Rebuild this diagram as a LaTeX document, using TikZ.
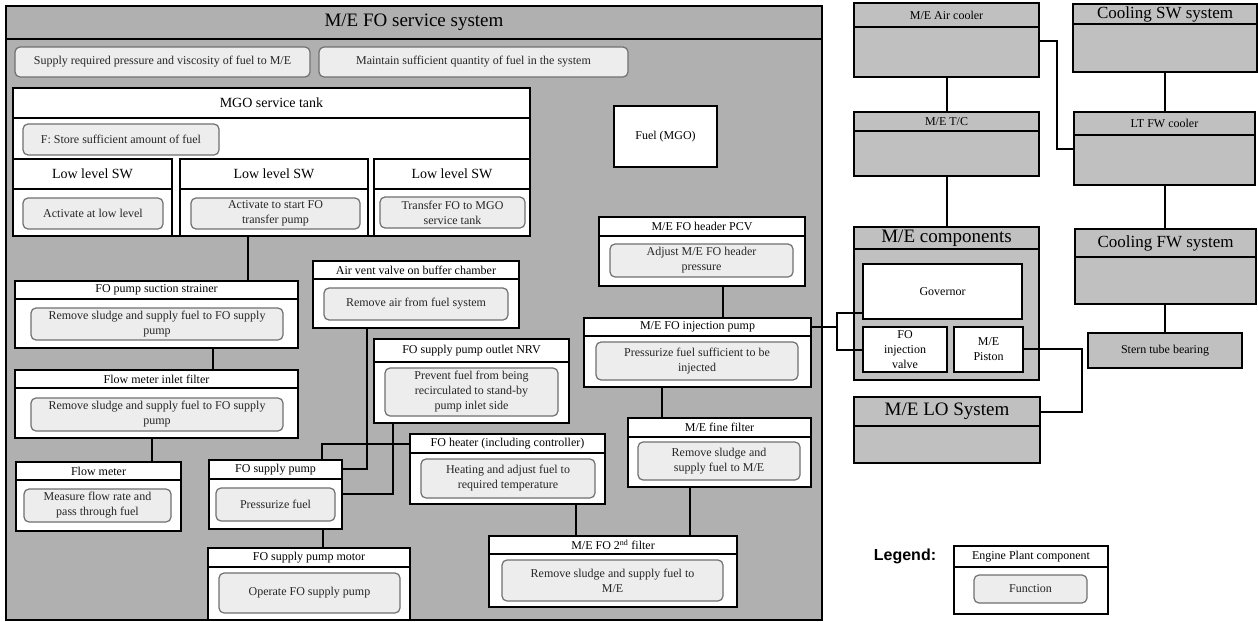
\documentclass[tikz,border=0pt]{standalone}
\usepackage{fontspec}
\setmainfont{Liberation Serif}
\newfontfamily\legendfont{Liberation Sans}
\definecolor{sysgray}{HTML}{B0B0B0}
\definecolor{rgray}{HTML}{C0C0C0}
\definecolor{fnfill}{HTML}{EDEDED}
\definecolor{fnline}{HTML}{707070}
\newcommand{\szsmall}{\fontsize{12}{15}\selectfont}
\newcommand{\szmid}{\fontsize{14}{17}\selectfont}
\newcommand{\szlarge}{\fontsize{17}{20}\selectfont}
\newcommand{\szhuge}{\fontsize{19}{22}\selectfont}
% component box with a title band: name, style, x1, y1, x2, y2, band bottom, title
\newcommand{\cbox}[8]{%
  \node[#2, anchor=north west, minimum width={(#5-#3)*1pt}, minimum height={(#6-#4)*1pt}] (#1) at (#3,#4) {};
  \draw[sep] (#3,#7) -- (#5,#7);
  \node[ttl] (#1-t) at ({(#3+#5)/2},{(#4+#7)/2}) {#8};
}
% plain box with centred text: name, style, x1, y1, x2, y2, text
\newcommand{\pbox}[7]{%
  \node[#2, anchor=north west, align=center, font=\szsmall, minimum width={(#5-#3)*1pt}, minimum height={(#6-#4)*1pt}] (#1) at (#3,#4) {#7};
}
% rounded function box: name, x1, y1, x2, y2, text
\newcommand{\fnbox}[6]{%
  \node[func, anchor=north west, minimum width={(#4-#2)*1pt}, minimum height={(#5-#3)*1pt}] (#1) at (#2,#3) {#6};
}
\begin{document}
\begin{tikzpicture}[x=1pt,y=-1pt,
  box/.style={draw=black, line width=1.5pt, fill=white, inner sep=0pt, outer sep=0pt},
  gbox/.style={box, fill=sysgray},
  rbox/.style={box, fill=rgray},
  func/.style={draw=fnline, fill=fnfill, line width=1.2pt, rounded corners=5pt, inner sep=0pt, outer sep=0pt, align=center, font=\szsmall, text=black!85},
  ttl/.style={inner sep=0pt, align=center, font=\szsmall},
  sep/.style={draw=black, line width=1.5pt},
  conn/.style={draw=black, line width=1.4pt}]
\useasboundingbox (0,0) rectangle (1258,621);

% ---------------- M/E FO service system ----------------
\cbox{fosys}{gbox}{6}{6}{822}{620}{39}{\szhuge M/E FO service system}
\fnbox{fsupply}{15}{47}{310}{77}{Supply required pressure and viscosity of fuel to M/E}
\fnbox{fmaintain}{319}{47}{628}{77}{Maintain sufficient quantity of fuel in the system}

% MGO service tank with its level switches
\cbox{tank}{box}{13}{88}{530}{236}{118}{\szmid MGO service tank}
\fnbox{ftank}{23}{124}{219}{155}{F: Store sufficient amount of fuel}
\cbox{swa}{box}{13}{159}{172}{236}{189}{\szmid Low level SW}
\fnbox{fswa}{23}{198}{163}{229}{Activate at low level}
\cbox{swb}{box}{180}{159}{368}{236}{189}{\szmid Low level SW}
\fnbox{fswb}{191}{198}{360}{229}{Activate to start FO\\transfer pump}
\cbox{swc}{box}{374}{159}{530}{236}{189}{\szmid Low level SW}
\fnbox{fswc}{380}{197}{525}{228}{Transfer FO to MGO\\service tank}

\pbox{fuel}{box}{614}{106}{717}{167}{Fuel (MGO)}

% suction side
\cbox{strainer}{box}{15}{281}{298}{348}{299}{FO pump suction strainer}
\fnbox{fstrainer}{31}{308}{283}{340}{Remove sludge and supply fuel to FO supply\\pump}
\cbox{inlet}{box}{15}{370}{298}{438}{388}{Flow meter inlet filter}
\fnbox{finlet}{31}{398}{283}{431}{Remove sludge and supply fuel to FO supply\\pump}
\cbox{flowm}{box}{16}{462}{181}{531}{480}{Flow meter}
\fnbox{fflowm}{24}{489}{171}{522}{Measure flow rate and\\pass through fuel}

% supply pump group
\cbox{airvent}{box}{313}{261}{519}{328}{279}{Air vent valve on buffer chamber}
\fnbox{fairvent}{324}{288}{508}{320}{Remove air from fuel system}
\cbox{nrv}{box}{374}{339}{569}{423}{362}{FO supply pump outlet NRV}
\fnbox{fnrv}{385}{368}{558}{416}{Prevent fuel from being\\recirculated to stand-by\\pump inlet side}
\cbox{pump}{box}{209}{460}{342}{529}{479}{FO supply pump}
\fnbox{fpump}{216}{488}{335}{521}{Pressurize fuel}
\cbox{motor}{box}{208}{548}{410}{620}{567}{FO supply pump motor}
\fnbox{fmotor}{219}{573}{400}{613}{Operate FO supply pump}
\cbox{heater}{box}{410}{434}{605}{504}{453}{FO heater (including controller)}
\fnbox{fheater}{421}{459}{595}{498}{Heating and adjust fuel to\\required temperature}

% pressure side
\cbox{second}{box}{489}{536}{737}{607}{554}{M/E FO 2\textsuperscript{nd} filter}
\fnbox{fsecond}{502}{560}{723}{601}{Remove sludge and supply fuel to\\M/E}
\cbox{fine}{box}{628}{418}{811}{487}{437}{M/E fine filter}
\fnbox{ffine}{638}{442}{800}{480}{Remove sludge and\\supply fuel to M/E}
\cbox{injpump}{box}{584}{318}{811}{387}{336}{M/E FO injection pump}
\fnbox{finjpump}{596}{342}{798}{380}{Pressurize fuel sufficient to be\\injected}
\cbox{pcv}{box}{599}{217}{805}{286}{236}{M/E FO header PCV}
\fnbox{fpcv}{610}{244}{793}{277}{Adjust M/E FO header\\pressure}

% ---------------- neighbouring systems ----------------
\cbox{aircool}{rbox}{854}{3}{1039}{77}{27}{M/E Air cooler}
\cbox{coolsw}{rbox}{1073}{4}{1257}{72}{24}{\szlarge Cooling SW system}
\cbox{tc}{rbox}{854}{112}{1039}{176}{131}{M/E T/C}
\cbox{ltfw}{rbox}{1074}{112}{1255}{185}{135}{LT FW cooler}
\cbox{mecomp}{rbox}{854}{227}{1039}{380}{249}{\szhuge M/E components}
\pbox{governor}{box}{863}{264}{1022}{319}{Governor}
\pbox{injvalve}{box}{863}{327}{947}{372}{FO\\injection\\valve}
\pbox{piston}{box}{954}{327}{1023}{372}{M/E\\Piston}
\cbox{coolfw}{rbox}{1075}{229}{1256}{304}{257}{\szlarge Cooling FW system}
\pbox{stern}{rbox}{1088}{333}{1242}{368}{Stern tube bearing}
\cbox{lo}{rbox}{854}{397}{1040}{463}{426}{\szhuge M/E LO System}

% ---------------- legend ----------------
\node[inner sep=0pt, font=\legendfont\bfseries\fontsize{16}{18}\selectfont] (legtitle) at (905,556) {Legend:};
\cbox{legbox}{box}{954}{546}{1108}{614}{567}{Engine Plant component}
\fnbox{legfn}{974}{575}{1087}{603}{Function}

% ---------------- connections ----------------
\draw[conn] (248,0 |- tank.south) -- (248,0 |- strainer.north);
\draw[conn] (213,0 |- strainer.south) -- (213,0 |- inlet.north);
\draw[conn] (152,0 |- inlet.south) -- (152,0 |- flowm.north);
\draw[conn] (323,0 |- pump.south) -- (323,0 |- motor.north);
\draw[conn] (367,0 |- airvent.south) |- (pump.east |- 0,469);
\draw[conn] (393,0 |- nrv.south) |- (pump.east |- 0,494);
\draw[conn] (heater.west |- 0,444) -| (322,0 |- pump.north);
\draw[conn] (576,0 |- heater.south) -- (576,0 |- second.north);
\draw[conn] (690,0 |- second.north) -- (690,0 |- fine.south);
\draw[conn] (662,0 |- fine.north) -- (662,0 |- injpump.south);
\draw[conn] (723,0 |- injpump.north) -- (723,0 |- pcv.south);
\coordinate (split) at (837,327);
\draw[conn] (injpump.east |- split) -- (split);
\draw[line width=1.1pt] (split) |- (governor.west |- 0,313);
\draw[line width=1.1pt] (split) |- (injvalve.west |- 0,350);
\draw[conn] (947,0 |- aircool.south) -- (947,0 |- tc.north);
\draw[conn] (947,0 |- tc.south) -- (947,0 |- mecomp.north);
\draw[conn] (1165,0 |- coolsw.south) -- (1165,0 |- ltfw.north);
\draw[conn] (1165,0 |- ltfw.south) -- (1165,0 |- coolfw.north);
\draw[conn] (1165,0 |- coolfw.south) -- (1165,0 |- stern.north);
\draw[conn] (aircool.east |- 0,41) -| (1057,95) |- (ltfw.west |- 0,149);
\draw[conn] (piston.east |- 0,349) -| (1082,380) |- (lo.east |- 0,412);
\end{tikzpicture}
\end{document}
